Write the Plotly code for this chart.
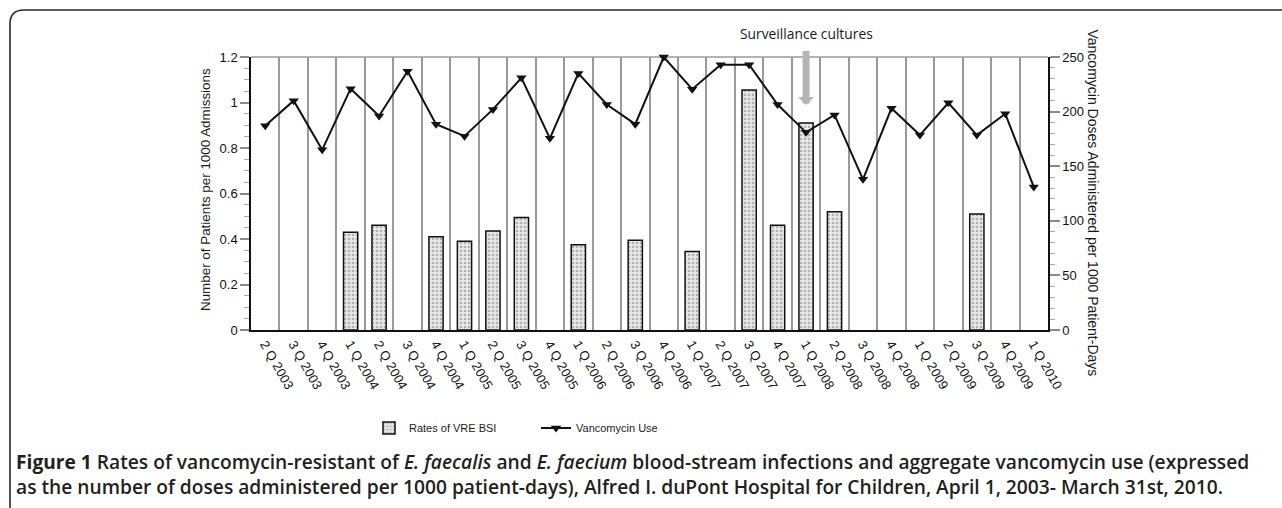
import plotly.graph_objects as go

quarters = ["2 Q 2003", "3 Q 2003", "4 Q 2003",
            "1 Q 2004", "2 Q 2004", "3 Q 2004", "4 Q 2004",
            "1 Q 2005", "2 Q 2005", "3 Q 2005", "4 Q 2005",
            "1 Q 2006", "2 Q 2006", "3 Q 2006", "4 Q 2006",
            "1 Q 2007", "2 Q 2007", "3 Q 2007", "4 Q 2007",
            "1 Q 2008", "2 Q 2008", "3 Q 2008", "4 Q 2008",
            "1 Q 2009", "2 Q 2009", "3 Q 2009", "4 Q 2009",
            "1 Q 2010"]

vre_bsi_rates = [None, None, None,
                 0.43, 0.46, None, 0.41,
                 0.39, 0.435, 0.495, None,
                 0.375, None, 0.395, None,
                 0.345, None, 1.055, 0.46,
                 0.91, 0.52, None, None,
                 None, None, 0.51, None,
                 None]

vancomycin_use = [187, 210, 165,
                  221, 196, 237, 188.5,
                  177.5, 202, 231, 175.5,
                  235, 206.5, 188.5, 250,
                  220.5, 243, 243, 206.5,
                  181, 197, 138, 203,
                  178.5, 208, 178.5, 198,
                  131]

W, H = 1282, 508
L, R, T, B = 251, 1048, 57, 330


def px(x):
    return (x - L) / (R - L)


def py(y):
    return (B - y) / (B - T)


AX_FONT = "Arial, Liberation Sans, sans-serif"
CAP_FONT = "Open Sans, Noto Sans, sans-serif"

fig = go.Figure()

fig.add_trace(go.Bar(
    x=quarters, y=vre_bsi_rates, name="Rates of VRE BSI",
    width=0.5,
    marker=dict(color="#e4e4e4",
                line=dict(color="#111111", width=1.5),
                pattern=dict(shape=".", fgcolor="#7a7a7a", bgcolor="#e8e8e8",
                             size=4, solidity=0.35)),
    yaxis="y",
))

fig.add_trace(go.Scatter(
    x=quarters, y=vancomycin_use, name="Vancomycin Use",
    mode="lines+markers",
    line=dict(color="#111111", width=2),
    marker=dict(symbol="triangle-down", size=9, color="#111111"),
    cliponaxis=False,
    yaxis="y2",
))

fig.update_layout(
    width=W, height=H, autosize=False,
    margin=dict(l=L, r=W - R, t=T, b=H - B, pad=0),
    paper_bgcolor="white", plot_bgcolor="white",
    font=dict(family=AX_FONT, color="#1a1a1a", size=13),
    xaxis=dict(
        type="category", range=[-0.5, 27.5],
        tickson="boundaries", showgrid=True, gridcolor="#9a9a9a", gridwidth=1.5,
        showline=True, linecolor="#111111", linewidth=1.5,
        ticks="", tickangle=60, tickfont=dict(size=13, family=AX_FONT, color="#111111"),
        zeroline=False,
    ),
    yaxis=dict(
        range=[0, 1.2], dtick=0.2, tick0=0,
        showgrid=False, zeroline=False,
        showline=True, linecolor="#111111", linewidth=1.5,
        ticks="outside", ticklen=9, tickwidth=1.5, tickcolor="#8a8a8a",
        minor=dict(dtick=0.05, ticks="outside", ticklen=5, tickcolor="#aaaaaa",
                   tickwidth=1, showgrid=False),
        tickfont=dict(size=13, color="#111111"),
    ),
    yaxis2=dict(
        overlaying="y", side="right",
        range=[0, 250], dtick=50, tick0=0,
        showgrid=False, zeroline=False,
        showline=True, linecolor="#111111", linewidth=1.5,
        ticks="outside", ticklen=10, tickwidth=1.5, tickcolor="#8a8a8a",
        minor=dict(dtick=10, ticks="outside", ticklen=5, tickcolor="#aaaaaa",
                   tickwidth=1, showgrid=False),
        tickfont=dict(size=13, color="#111111"),
    ),
    showlegend=True,
    legend=dict(
        orientation="h", x=px(369), xanchor="left",
        y=py(428), yanchor="middle",
        font=dict(family=AX_FONT, size=11, color="#1a1a1a"),
        entrywidth=122, entrywidthmode="pixels",
        bgcolor="rgba(0,0,0,0)", traceorder="normal",
    ),
)

shapes = [
    # light top border of the plot area
    dict(type="line", xref="paper", yref="paper", x0=0, x1=1, y0=1, y1=1,
         line=dict(color="#9a9a9a", width=1.5), layer="below"),
    # figure frame (rounded top-left corner)
    dict(type="path", xref="paper", yref="paper",
         path=(f"M{px(1290)},{py(10)} L{px(24)},{py(10)} "
               f"Q{px(10)},{py(10)} {px(10)},{py(24)} L{px(10)},{py(515)}"),
         line=dict(color="#2a2a2a", width=1.6)),
]
fig.update_layout(shapes=shapes)

caption = ("<b>Figure 1</b> Rates of vancomycin-resistant of <i>E. faecalis</i> and "
           "<i>E. faecium</i> blood-stream infections and aggregate vancomycin use (expressed"
           "<br>as the number of doses administered per 1000 patient-days), Alfred I. duPont "
           "Hospital for Children, April 1, 2003- March 31st, 2010.")

annotations = [
    dict(text="Number of Patients per 1000 Admissions", textangle=-90,
         xref="paper", yref="paper", x=px(205), y=py(190),
         xanchor="center", yanchor="middle",
         showarrow=False, font=dict(family=AX_FONT, size=13.4, color="#1a1a1a")),
    dict(text="Vancomycin Doses Administered per 1000 Patient-Days", textangle=90,
         xref="paper", yref="paper", x=px(1093), y=py(202.5),
         xanchor="center", yanchor="middle",
         showarrow=False, font=dict(family=AX_FONT, size=14, color="#1a1a1a")),
    dict(text="Surveillance cultures", x="1 Q 2008", xref="x",
         y=(B - 105) / (B - T) * 1.2, yref="y",
         ax=0, ay=-72, showarrow=True, arrowhead=1, arrowsize=0.38,
         arrowwidth=7, arrowcolor="#b5b5b5", startstandoff=7,
         font=dict(family="Open Sans, sans-serif", size=13.8, color="#1a1a1a")),
    dict(text=caption, align="left",
         xref="paper", yref="paper", x=px(14), y=py(474), xanchor="left", yanchor="middle",
         showarrow=False, font=dict(family=CAP_FONT, size=19.2, color="#231f20", weight=600)),
]
fig.update_layout(annotations=annotations)

fig.write_html("out.html", config={"displayModeBar": False},
               post_script="document.body.style.margin='0';document.body.style.padding='0';")
